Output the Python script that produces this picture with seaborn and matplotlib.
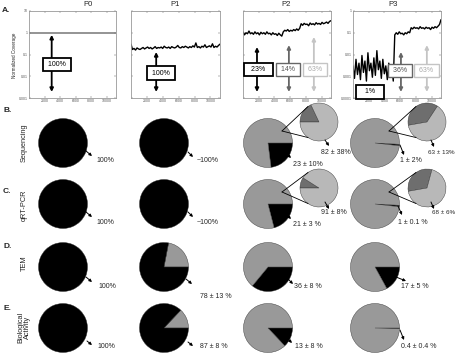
import numpy as np
import matplotlib
matplotlib.use("Agg")
import matplotlib.pyplot as plt
import seaborn as sns

sns.set_style("white")
plt.rcParams['font.family'] = ['Liberation Sans', 'DejaVu Sans']

W, H = 457, 355

# === Coverage traces (panel A), normalized coverage ===
trace_x = np.linspace(0, 11200, 60)
p0_x = [0, 11200]
p0_cov = [1.0, 1.0]
p1_cov = [0.30, 0.17, 0.19, 0.16, 0.20, 0.18, 0.17, 0.19, 0.21, 0.18,
          0.20, 0.22, 0.19, 0.21, 0.18, 0.20, 0.23, 0.19, 0.21, 0.20,
          0.22, 0.19, 0.24, 0.21, 0.20, 0.22, 0.19, 0.23, 0.21, 0.20,
          0.22, 0.26, 0.21, 0.20, 0.23, 0.21, 0.24, 0.22, 0.20, 0.23,
          0.21, 0.25, 0.22, 0.34, 0.21, 0.23, 0.20, 0.24, 0.22, 0.28,
          0.21, 0.23, 0.25, 0.22, 0.31, 0.21, 0.24, 0.22, 0.26, 0.30]
p2_cov = [0.11, 0.08, 0.10, 0.09, 0.12, 0.09, 0.10, 0.085, 0.11, 0.09,
          0.10, 0.08, 0.105, 0.09, 0.10, 0.085, 0.11, 0.09, 0.095, 0.08,
          0.10, 0.085, 0.09, 0.075, 0.095, 0.08, 0.07,
          0.11, 0.13, 0.12, 0.14, 0.115, 0.13, 0.12, 0.14, 0.125, 0.15, 0.13, 0.16,
          0.26, 0.22, 0.27, 0.24, 0.25, 0.21, 0.28, 0.24, 0.26, 0.23, 0.29,
          0.25, 0.27, 0.24, 0.30, 0.26, 0.28, 0.31, 0.27, 0.33, 0.36]
p3_cov = [0.003, 0.0008, 0.006, 0.0012, 0.004, 0.0007, 0.009, 0.0015, 0.005, 0.0006,
          0.012, 0.0018, 0.004, 0.0009, 0.007, 0.0011, 0.015, 0.002, 0.005, 0.0008,
          0.006, 0.0013, 0.003, 0.0007, 0.004, 0.0009, 0.0025, 0.0006,
          0.08, 0.10, 0.085, 0.11, 0.09, 0.095, 0.08, 0.10, 0.09, 0.11, 0.10,
          0.17, 0.15, 0.18, 0.16, 0.17, 0.15, 0.19, 0.16, 0.17, 0.15, 0.18,
          0.16, 0.17, 0.14, 0.18, 0.16, 0.19, 0.17, 0.20, 0.24, 0.40]

passages = ["P0", "P1", "P2", "P3"]

# === Pie data (% full length genomes) ===
row_names = ["Sequencing", "qRT-PCR", "TEM", "Biological\nActivity"]
row_letters = ["B.", "C.", "D.", "E."]
seq_pct = [100, 100, 23, 1]
qpcr_pct = [100, 100, 21, 1]
tem_pct = [100, 78, 36, 17]
bio_pct = [100, 87, 13, 0.4]
seq_labels = ["100%", "~100%", "23 ± 10%", "1 ± 2%"]
qpcr_labels = ["100%", "~100%", "21 ± 3 %", "1 ± 0.1 %"]
tem_labels = ["100%", "78 ± 13 %", "36 ± 8 %", "17 ± 5 %"]
bio_labels = ["100%", "87 ± 8 %", "13 ± 8 %", "0.4 ± 0.4 %"]
# zoom pies for P2 / P3 (light grey share)
seq_inset_pct = [82, 63]
qpcr_inset_pct = [91, 68]
seq_inset_labels = ["82 ± 38%", "63 ± 13%"]
qpcr_inset_labels = ["91 ± 8%", "68 ± 6%"]

BLACK, DGREY, GREY, LGREY = "#000000", "#6e6e6e", "#999999", "#b8b8b8"

fig = plt.figure(figsize=(W / 100, H / 100), dpi=100)


def fx(x):
    return x / W


def fy(y):
    return 1 - y / H


# === Panel A ===
axes_px = [(29, 116), (131, 220), (243, 331), (353, 441)]
a_top, a_bot = 11, 98
covs = [p0_cov, p1_cov, p2_cov, p3_cov]
ylims = [(0.001, 10), (0.001, 10), (0.0001, 1), (0.0001, 1)]

# boxes: (label, x, y, colour, arrow_x, arrow_top, arrow_bottom)
a_boxes = [
    [(" 100% ", 3620, 0.036, BLACK, 2920, 0.8, 0.0019)],
    [(" 100% ", 3750, 0.014, BLACK, 3170, 0.13, 0.0019)],
    [("  23%  ", 1970, 0.0021, BLACK, 1780, 0.022, 0.00019),
     (" 14% ", 5720, 0.0021, "#666666", 5840, 0.027, 0.00019),
     (" 63% ", 9200, 0.0021, "#c4c4c4", 9020, 0.064, 0.00019)],
    [("   1%   ", 2160, 0.00019, BLACK, None, None, None),
     (" 36% ", 6000, 0.0019, "#666666", 6100, 0.013, 0.00019),
     (" 63% ", 9350, 0.0019, "#c4c4c4", 9400, 0.027, 0.00019)],
]

for i, (l, r) in enumerate(axes_px):
    ax = fig.add_axes([fx(l), fy(a_bot), (r - l) / W, (a_bot - a_top) / H])
    if i == 0:
        sns.lineplot(x=p0_x, y=p0_cov, ax=ax, color="#777777", lw=1.1, estimator=None)
    else:
        sns.lineplot(x=trace_x, y=covs[i], ax=ax, color="k", lw=1.0, estimator=None)
    ax.set_yscale("log")
    ax.set_ylim(*ylims[i])
    ax.set_xlim(0, 11200)
    ax.yaxis.set_minor_locator(matplotlib.ticker.NullLocator())
    ax.set_xticks([2000, 4000, 6000, 8000, 10000])
    ax.set_xticklabels(["2000", "4000", "6000", "8000", "10000"])
    lo, hi = ylims[i]
    yt = [hi / 10 ** k for k in range(5)]
    ax.set_yticks(yt)
    if i == 0:
        ax.set_yticklabels(["10", "1", "0.1", "0.01", "0.001"])
    elif i == 3:
        ax.set_yticklabels(["1", "0.1", "0.01", "0.001", "0.0001"])
    else:
        ax.set_yticklabels([])
    ax.tick_params(direction="in", length=1.5, width=0.3, labelsize=2.5, pad=1,
                   bottom=True, left=True, top=True, right=True, colors="#555555")
    for s in ax.spines.values():
        s.set_color("#999999")
        s.set_linewidth(0.6)
    ax.set_xlabel("")
    ax.set_ylabel("")
    for (lab, bx, by, col, axx, atop, abot) in a_boxes[i]:
        if axx is not None:
            ax.annotate("", xy=(axx, abot), xytext=(axx, atop),
                        arrowprops=dict(arrowstyle="<|-|>", color=col, lw=1.3,
                                        mutation_scale=5, shrinkA=0, shrinkB=0))
        tcol = BLACK if col == BLACK else ("#555555" if col == "#666666" else "#aaaaaa")
        ax.text(bx, by, lab, ha="center", va="center", fontsize=5, color=tcol,
                clip_on=False, zorder=5,
                bbox=dict(boxstyle="square,pad=0.45", fc="white", ec=col,
                          lw=1.3 if col == BLACK else 1.0))

fig.text(fx(2), fy(10), "A.", fontsize=6, fontweight="bold", va="center")
fig.text(fx(15), fy(55), "Normalized Coverage", fontsize=3.3, rotation=90,
         ha="center", va="center")
title_x = [88, 175, 286, 393]
for t, x in zip(passages, title_x):
    fig.text(fx(x), fy(5), t, fontsize=5.5, ha="center", va="center")

# === Pies (B-E) on an overlay axes in pixel units ===
ov = fig.add_axes([0, 0, 1, 1])
ov.patch.set_alpha(0)

col_cx = [63, 164, 268, 375]
row_cy = [143, 204, 267, 328]
R = 24.5
inset_cx = [319, 427]
inset_cy = [122, 188]
r_in = 19
inset_start = [180, 190]

pcts = [seq_pct, qpcr_pct, tem_pct, bio_pct]
labels = [seq_labels, qpcr_labels, tem_labels, bio_labels]
wp = dict(edgecolor="#333333", linewidth=0.3)

for ri in range(4):
    cy = H - row_cy[ri]
    for ci in range(4):
        p = pcts[ri][ci]
        if ci == 1:
            vals, cols, cc = [100 - p, p], [GREY, BLACK], True
        else:
            vals, cols, cc = [p, 100 - p], [BLACK, GREY], False
        keep = [k for k, v in enumerate(vals) if v > 0]
        start = -3 if (ci == 3 and ri < 2) else 0
        ov.pie([vals[k] for k in keep], colors=[cols[k] for k in keep],
               startangle=start, counterclock=cc, center=(col_cx[ci], cy),
               radius=R, frame=True, wedgeprops=wp)

# zoom pies for sequencing / qRT-PCR
inset_pcts = [seq_inset_pct, qpcr_inset_pct]
for ri in range(2):
    for j in range(2):
        light = inset_pcts[ri][j]
        icx, icy = inset_cx[j], H - inset_cy[ri]
        ov.pie([100 - light, light], colors=[DGREY, LGREY],
               startangle=inset_start[j], counterclock=False,
               center=(icx, icy), radius=r_in, frame=True, wedgeprops=wp)
        tipx, tipy = col_cx[2 + j] + 14, H - row_cy[ri] + 12
        for a in (125, -125):
            ex = icx + r_in * np.cos(np.radians(a))
            ey = icy + r_in * np.sin(np.radians(a))
            ov.plot([tipx, ex], [tipy, ey], color="k", lw=0.6)

# label arrows: (tail, head, text position) in pixels
main_lab = [
    [((86, 151), (92, 156), (96, 160)), ((188, 152), (193, 157), (197, 160)),
     ((286, 153), (291, 158), (293, 164)), ((400, 145), (404, 155), (400, 160))],
    [((86, 212), (92, 217), (96, 222)), ((188, 212), (193, 217), (197, 222)),
     ((286, 214), (291, 219), (293, 224)), ((398, 206), (402, 215), (398, 222))],
    [((86, 277), (92, 282), (98, 287)), ((186, 279), (192, 284), (200, 296)),
     ((288, 279), (293, 284), (294, 287)), ((396, 277), (406, 281), (401, 287))],
    [((87, 341), (92, 345), (97, 347)), ((188, 342), (193, 346), (200, 347)),
     ((288, 339), (292, 343), (295, 347)), ((400, 330), (404, 340), (401, 347))],
]
inset_lab = [
    [((325, 140), (329, 146), (321, 152)), ((431, 140), (434, 147), (428, 152))],
    [((325, 202), (329, 209), (321, 213)), ((431, 202), (434, 209), (432, 213))],
]
inset_text = [seq_inset_labels, qpcr_inset_labels]


def lab_arrow(tail, head, tpos, text, fs=5):
    ov.annotate("", xy=(head[0], H - head[1]), xytext=(tail[0], H - tail[1]),
                arrowprops=dict(arrowstyle="-|>", color="k", lw=0.7,
                                mutation_scale=4, shrinkA=0, shrinkB=0))
    ov.text(tpos[0], H - tpos[1], text, fontsize=fs, ha="left", va="center")


for ri in range(4):
    for ci in range(4):
        t, h, p = main_lab[ri][ci]
        lab_arrow(t, h, p, labels[ri][ci])
for ri in range(2):
    for j in range(2):
        t, h, p = inset_lab[ri][j]
        lab_arrow(t, h, p, inset_text[ri][j], fs=5 if j == 0 else 4.5)

ov.set_xlim(0, W)
ov.set_ylim(0, H)
ov.set_aspect("auto")
ov.axis("off")

# row labels
letter_y = [111, 192, 247, 308]
name_y = [143, 205, 263, 327]
for ri in range(4):
    fig.text(fx(3), fy(letter_y[ri]), row_letters[ri], fontsize=6,
             fontweight="bold", va="center")
    fig.text(fx(24), fy(name_y[ri]), row_names[ri], fontsize=5.3, rotation=90,
             ha="center", va="center", linespacing=1.0)

fig.savefig("out.png", dpi=100)
